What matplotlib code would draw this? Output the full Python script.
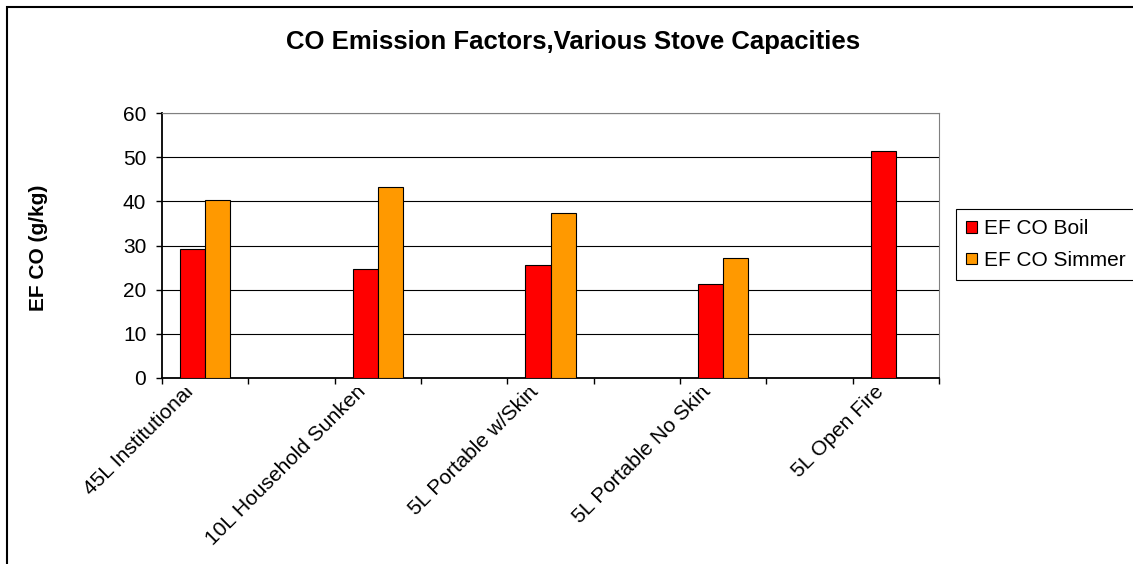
import numpy as np
import matplotlib.pyplot as plt
from matplotlib.patches import Rectangle
from matplotlib.transforms import Bbox, ScaledTranslation
from matplotlib.ticker import MultipleLocator

plt.rcParams['font.family'] = ['Liberation Sans', 'DejaVu Sans']

stoves = ['45L Institutional', '10L Household Sunken', '5L Portable w/Skirt',
          '5L Portable No Skirt', '5L Open Fire']
ef_boil = [29.1, 24.7, 25.5, 21.3, 51.5]
ef_simmer = [40.3, 43.2, 37.3, 27.2, np.nan]

fig = plt.figure(figsize=(11.33, 5.64), dpi=100)
ax = fig.add_axes([0.143, 0.3298, 0.6858, 0.4698])

# each stove sits on every other category slot, blanks in between
x = np.arange(len(stoves)) * 2
w = 0.29
ax.bar(x - w/2, ef_boil, w, color='#FF0000', edgecolor='black', lw=0.8, label='EF CO Boil', zorder=3)
ax.bar(x + w/2, ef_simmer, w, color='#FF9900', edgecolor='black', lw=0.8, label='EF CO Simmer', zorder=3)

ax.set_xlim(-0.5, 2*len(stoves) - 1.5)
ax.set_ylim(0, 60)
ax.yaxis.set_major_locator(MultipleLocator(10))
ax.grid(axis='y', color='black', lw=0.8, zorder=0)

for s in ['top', 'right']:
    ax.spines[s].set_color('#808080')
for s in ['left', 'bottom']:
    ax.spines[s].set_color('black')
    ax.spines[s].set_linewidth(1.3)

ax.set_xticks(x)
ax.set_xticklabels(stoves, rotation=45, ha='right', va='top', rotation_mode='anchor', fontsize=15)
ax.set_xticks(np.arange(-0.5, 2*len(stoves) - 1, 1.0), minor=True)
ax.tick_params(axis='x', which='major', length=0, pad=3)
ax.tick_params(axis='x', which='minor', length=4.3, width=1, direction='out')
ax.tick_params(axis='y', length=4.3, width=1, direction='out', labelsize=15, pad=7)

# slanted labels: shift left a bit and cut them off just below the axis
shift = ScaledTranslation(-0.22, 0, fig.dpi_scale_trans)
clip = Bbox.from_extents(0, 0, 1133, 564 - 388)
for lab in ax.get_xticklabels():
    lab.set_transform(lab.get_transform() + shift)
    lab.set_clip_box(clip)
    lab.set_clip_on(True)

fig.text(38/1133, 1 - 248/564, 'EF CO (g/kg)', rotation=90, ha='center', va='center',
         fontsize=15, fontweight='bold')
fig.text(573/1133, 1 - 42/564, 'CO Emission Factors,Various Stove Capacities',
         ha='center', va='center', fontsize=18.5, fontweight='bold')

leg = fig.legend(loc='upper left', bbox_to_anchor=(956/1133, 1 - 209/564), fontsize=15,
                 frameon=True, fancybox=False, edgecolor='black', framealpha=1,
                 handlelength=0.5, handleheight=0.5, handletextpad=0.35,
                 borderpad=0.5, labelspacing=0.6, borderaxespad=0)
leg.get_frame().set_linewidth(0.8)

# outer chart border
fig.patches.append(Rectangle((7/1133, -0.1), 1.2, 1 - 7/564 + 0.1, transform=fig.transFigure,
                             fill=False, edgecolor='black', lw=1.5))

fig.savefig('out.png', dpi=100)
